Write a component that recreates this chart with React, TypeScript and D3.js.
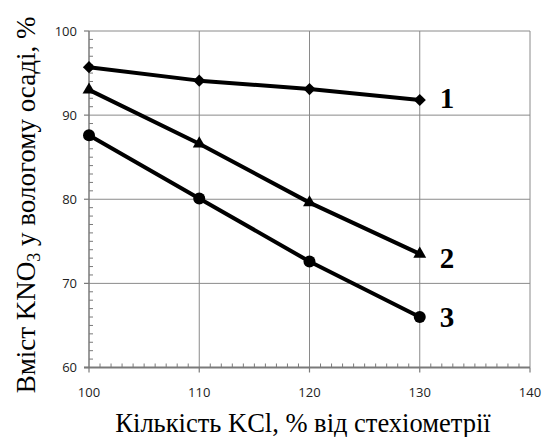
import React from "react";
import * as d3 from "d3";

const xValues = [100, 110, 120, 130];
const series1 = [95.7, 94.1, 93.1, 91.8];
const series2 = [93.0, 86.6, 79.6, 73.5];
const series3 = [87.6, 80.1, 72.6, 66.0];
const seriesLabels = ["1", "2", "3"];
const xTicks = [100, 110, 120, 130, 140];
const yTicks = [60, 70, 80, 90, 100];

const W = 544;
const H = 437;

export default function App() {
  const x = d3.scaleLinear().domain([100, 140]).range([89, 530]);
  const y = d3.scaleLinear().domain([60, 100]).range([367.5, 31]);

  const line = d3
    .line<number>()
    .x((_, i) => x(xValues[i]))
    .y((d) => y(d));

  const minorX = d3.range(100, 140, 1).filter((v) => v % 10 !== 0);
  const minorY = d3.range(60, 100, 1).filter((v) => v % 10 !== 0);

  const gridColor = "#8a8a8a";
  const axisColor = "#7a7a7a";
  const tickFont = "'Open Sans', 'Liberation Sans', sans-serif";
  const serif = "'Liberation Serif', 'Times New Roman', serif";

  const diamond = d3.symbol().type(d3.symbolDiamond2).size(95)();
  const triangle = d3.symbol().type(d3.symbolTriangle).size(72)();

  const labelPos = [
    { v: series1[3], dy: 8 },
    { v: series2[3], dy: 14 },
    { v: series3[3], dy: 10 },
  ];

  return (
    <div style={{ position: "absolute", left: 0, top: 0 }}>
      <svg width={W} height={H} style={{ display: "block", background: "#fff" }}>
        {/* grid */}
        <g stroke={gridColor} strokeWidth={1}>
          {xTicks.slice(1).map((t) => (
            <line key={"gx" + t} x1={x(t)} x2={x(t)} y1={y(100)} y2={y(60)} />
          ))}
          {yTicks.slice(1).map((t) => (
            <line key={"gy" + t} x1={x(100)} x2={x(140)} y1={y(t)} y2={y(t)} />
          ))}
        </g>

        {/* axes */}
        <g stroke={axisColor}>
          <line x1={x(100)} x2={x(100)} y1={y(100)} y2={y(60)} strokeWidth={1.5} />
          <line x1={x(100) - 5} x2={x(140)} y1={y(60)} y2={y(60)} strokeWidth={1.8} />
          {yTicks.map((t) => (
            <line key={"my" + t} x1={x(100) - 5} x2={x(100)} y1={y(t)} y2={y(t)} strokeWidth={1.2} />
          ))}
          {minorY.map((t) => (
            <line key={"ny" + t} x1={x(100)} x2={x(100) + 4} y1={y(t)} y2={y(t)} strokeWidth={1} />
          ))}
          {xTicks.map((t) => (
            <line key={"mx" + t} x1={x(t)} x2={x(t)} y1={y(60)} y2={y(60) + 5} strokeWidth={1.2} />
          ))}
          {minorX.map((t) => (
            <line key={"nx" + t} x1={x(t)} x2={x(t)} y1={y(60)} y2={y(60) - 4} strokeWidth={1} />
          ))}
        </g>

        {/* tick labels */}
        <g fontFamily={tickFont} fontSize={13} fill="#222">
          {yTicks.map((t) => (
            <text key={"ly" + t} x={x(100) - 12} y={y(t) + 4.5} textAnchor="end">
              {t}
            </text>
          ))}
          {xTicks.map((t) => (
            <text key={"lx" + t} x={x(t)} y={y(60) + 29} textAnchor="middle">
              {t}
            </text>
          ))}
        </g>

        {/* series lines */}
        <g fill="none" stroke="#000" strokeWidth={4} strokeLinejoin="round">
          <path d={line(series1) || ""} />
          <path d={line(series2) || ""} />
          <path d={line(series3) || ""} />
        </g>

        {/* markers */}
        <g fill="#000">
          {series1.map((v, i) => (
            <path key={"d" + i} d={diamond || ""} transform={`translate(${x(xValues[i])},${y(v)})`} />
          ))}
          {series2.map((v, i) => (
            <path key={"t" + i} d={triangle || ""} transform={`translate(${x(xValues[i])},${y(v)})`} />
          ))}
          {series3.map((v, i) => (
            <circle key={"c" + i} cx={x(xValues[i])} cy={y(v)} r={6} />
          ))}
        </g>

        {/* series numbers */}
        <g fontFamily={serif} fontWeight="bold" fontSize={29} fill="#000">
          {seriesLabels.map((s, i) => (
            <text key={"s" + i} x={x(130) + 20} y={y(labelPos[i].v) + labelPos[i].dy}>
              {s}
            </text>
          ))}
        </g>

        {/* axis titles */}
        <text
          x={303}
          y={432}
          textAnchor="middle"
          fontFamily={serif}
          fontSize={26.5}
          fill="#000"
        >
          Кількість KCl, % від стехіометрії
        </text>
        <text
          transform="translate(35,205) rotate(-90)"
          textAnchor="middle"
          fontFamily={serif}
          fontSize={27}
          fill="#000"
        >
          <tspan>Вміст  KNO</tspan>
          <tspan fontSize={18} dy={5}>3</tspan>
          <tspan dy={-5}> у вологому осаді, %</tspan>
        </text>
      </svg>
    </div>
  );
}
